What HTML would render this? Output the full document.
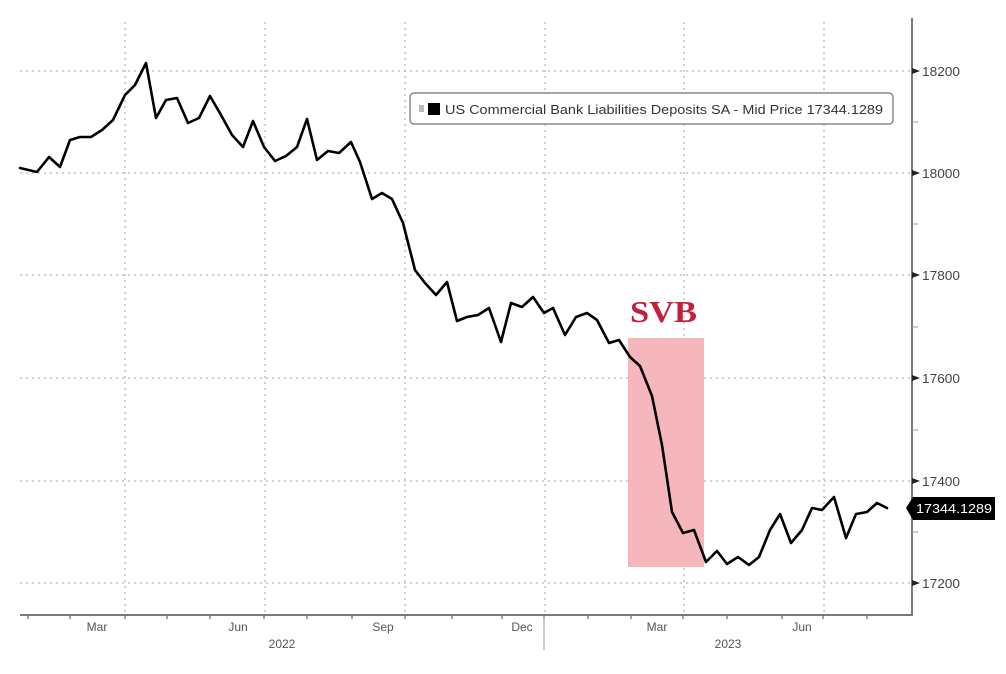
<!DOCTYPE html>
<html><head><meta charset="utf-8">
<style>
html,body{margin:0;padding:0;background:#fff;}
svg{display:block;}
text{font-family:"Liberation Sans",sans-serif;}
</style></head>
<body>
<svg width="1006" height="674" viewBox="0 0 1006 674" xmlns="http://www.w3.org/2000/svg">
<rect width="1006" height="674" fill="#fff"/>
<!-- horizontal gridlines -->
<g stroke="#b8b8b8" stroke-width="1.3" stroke-dasharray="2,4">
<line x1="20" y1="71" x2="910" y2="71"/>
<line x1="20" y1="173" x2="910" y2="173"/>
<line x1="20" y1="275" x2="910" y2="275"/>
<line x1="20" y1="378" x2="910" y2="378"/>
<line x1="20" y1="481" x2="910" y2="481"/>
<line x1="20" y1="583" x2="910" y2="583"/>
</g>
<!-- vertical gridlines -->
<g stroke="#b8b8b8" stroke-width="1.3" stroke-dasharray="2,4">
<line x1="125" y1="22" x2="125" y2="614"/>
<line x1="265" y1="22" x2="265" y2="614"/>
<line x1="405" y1="22" x2="405" y2="614"/>
<line x1="545" y1="22" x2="545" y2="614"/>
<line x1="684" y1="22" x2="684" y2="614"/>
<line x1="824" y1="22" x2="824" y2="614"/>
</g>
<!-- SVB shading -->
<rect x="628" y="338" width="76" height="229" fill="#f5b6bc"/>
<text x="630" y="322" font-family="Liberation Serif,serif" font-weight="bold" font-size="31" fill="#c1213f" textLength="67" lengthAdjust="spacingAndGlyphs" style="font-family:'Liberation Serif',serif">SVB</text>
<!-- legend -->
<rect x="410" y="93" width="483" height="31" rx="4" ry="4" fill="#fff" stroke="#8a8a8a" stroke-width="1.5"/>
<rect x="419" y="105" width="5" height="7" fill="#bbb"/>
<rect x="428" y="103" width="12" height="12" fill="#000"/>
<text x="445" y="114" font-size="13" fill="#333" textLength="438" lengthAdjust="spacingAndGlyphs">US Commercial Bank Liabilities Deposits SA - Mid Price 17344.1289</text>
<!-- series -->
<polyline fill="none" stroke="#000" stroke-width="2.6" stroke-linejoin="round" stroke-linecap="round" points="20,168 37,172 49,157 60,167 70,140 80,137 91,137 102,130 113,120 125,95 135,85 146,63 156,118 166,100 177,98 188,123 199,118 210,96 221,115 232,135 243,147 253,121 264,147 275,161 286,156 297,147 307,119 317,160 328,151 339,153 351,142 360,162 372,199 382,193 392,199 403,223 415,270 425,283 436,295 447,282 457,321 467,317 478,315 489,308 501,342 511,303 522,307 533,297 544,313 553,308 565,335 576,317 587,313 597,320 609,343 619,340 630,357 640,366 652,396 662,445 672,512 683,533 694,530 706,562 717,551 727,564 738,557 749,565 759,557 770,530 780,514 791,543 802,530 812,508 822,510 834,497 846,538 856,514 867,512 877,503 887,508"/>
<!-- axes -->
<line x1="20" y1="615" x2="913" y2="615" stroke="#7a7a7a" stroke-width="2"/>
<line x1="912" y1="18" x2="912" y2="616" stroke="#7a7a7a" stroke-width="2"/>
<!-- x ticks -->
<g stroke="#666" stroke-width="1.2">
<line x1="28" y1="615" x2="28" y2="619"/>
<line x1="70" y1="615" x2="70" y2="619"/>
<line x1="125" y1="615" x2="125" y2="619"/>
<line x1="167" y1="615" x2="167" y2="619"/>
<line x1="210" y1="615" x2="210" y2="619"/>
<line x1="264" y1="615" x2="264" y2="619"/>
<line x1="307" y1="615" x2="307" y2="619"/>
<line x1="352" y1="615" x2="352" y2="619"/>
<line x1="405" y1="615" x2="405" y2="619"/>
<line x1="452" y1="615" x2="452" y2="619"/>
<line x1="502" y1="615" x2="502" y2="619"/>
<line x1="544" y1="615" x2="544" y2="619"/>
<line x1="588" y1="615" x2="588" y2="619"/>
<line x1="631" y1="615" x2="631" y2="619"/>
<line x1="683" y1="615" x2="683" y2="619"/>
<line x1="727" y1="615" x2="727" y2="619"/>
<line x1="782" y1="615" x2="782" y2="619"/>
<line x1="823" y1="615" x2="823" y2="619"/>
<line x1="867" y1="615" x2="867" y2="619"/>
</g>
<line x1="544" y1="617" x2="544" y2="650" stroke="#999" stroke-width="1"/>
<!-- x labels -->
<g font-size="12" fill="#555" text-anchor="middle">
<text x="97" y="631">Mar</text>
<text x="238" y="631">Jun</text>
<text x="383" y="631">Sep</text>
<text x="522" y="631">Dec</text>
<text x="657" y="631">Mar</text>
<text x="802" y="631">Jun</text>
<text x="282" y="648">2022</text>
<text x="728" y="648">2023</text>
</g>
<!-- y ticks -->
<g fill="#222">
<polygon points="912,68 920,71 912,74"/>
<polygon points="912,170 920,173 912,176"/>
<polygon points="912,272 920,275 912,278"/>
<polygon points="912,375 920,378 912,381"/>
<polygon points="912,478 920,481 912,484"/>
<polygon points="912,580 920,583 912,586"/>
</g>
<g stroke="#999" stroke-width="1">
<line x1="912" y1="122" x2="918" y2="122"/>
<line x1="912" y1="224" x2="918" y2="224"/>
<line x1="912" y1="327" x2="918" y2="327"/>
<line x1="912" y1="430" x2="918" y2="430"/>
<line x1="912" y1="532" x2="918" y2="532"/>
</g>
<g font-size="13" fill="#444">
<text x="922" y="76" textLength="38" lengthAdjust="spacingAndGlyphs">18200</text>
<text x="922" y="178" textLength="38" lengthAdjust="spacingAndGlyphs">18000</text>
<text x="922" y="280" textLength="38" lengthAdjust="spacingAndGlyphs">17800</text>
<text x="922" y="383" textLength="38" lengthAdjust="spacingAndGlyphs">17600</text>
<text x="922" y="486" textLength="38" lengthAdjust="spacingAndGlyphs">17400</text>
<text x="922" y="588" textLength="38" lengthAdjust="spacingAndGlyphs">17200</text>
</g>
<!-- last value tag -->
<polygon points="906,508 913,497 995,497 995,520 913,520" fill="#000"/>
<text x="916" y="513" font-size="12.5" fill="#fff" textLength="76" lengthAdjust="spacingAndGlyphs">17344.1289</text>
</svg>
</body></html>
